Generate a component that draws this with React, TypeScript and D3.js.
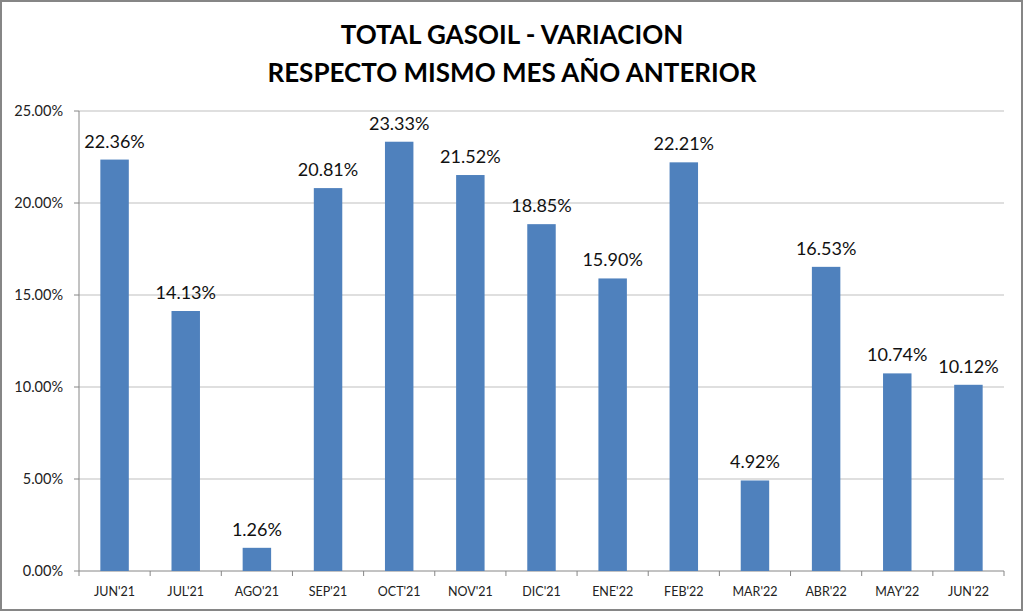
import * as d3 from "d3";
import * as React from "react";

const months = ["JUN'21", "JUL'21", "AGO'21", "SEP'21", "OCT'21", "NOV'21", "DIC'21", "ENE'22", "FEB'22", "MAR'22", "ABR'22", "MAY'22", "JUN'22"];
const variation = [22.36, 14.13, 1.26, 20.81, 23.33, 21.52, 18.85, 15.9, 22.21, 4.92, 16.53, 10.74, 10.12];
const yTicks = [0, 5, 10, 15, 20, 25];
const titleLines = ["TOTAL GASOIL - VARIACION", "RESPECTO MISMO MES AÑO ANTERIOR"];

const W = 1024;
const H = 612;
const margin = { top: 111, right: 20, bottom: 41, left: 79 };
const font = "Lato, 'Open Sans', sans-serif";

export default function App() {
    // inner 0.6 + outer 0.3 keeps step = width / 13, bars 40% of a category
    const x = d3.scaleBand<string>()
        .domain(months)
        .range([margin.left, W - margin.right])
        .paddingInner(0.6)
        .paddingOuter(0.3);

    const y = d3.scaleLinear()
        .domain([0, 25])
        .range([H - margin.bottom, margin.top]);

    const gap = (x.step() - x.bandwidth()) / 2;
    const boundaries = [...months.map(m => (x(m) ?? 0) - gap), W - margin.right];

    return (
        <svg width={W} height={H} style={{ position: "absolute", left: 0, top: 0, background: "white" }}>
            <rect x={1} y={1} width={W - 3} height={H - 3} fill="white" stroke="#868686" strokeWidth={2} />
            {titleLines.map((t, i) => (
                <text key={t} x={512} y={44 + i * 38} textAnchor="middle" fontFamily={font} fontWeight={700} fontSize={26} fill="#000">
                    {t}
                </text>
            ))}
            {yTicks.map(t => (
                <g key={t}>
                    {t > 0 && (
                        <line x1={margin.left} x2={W - margin.right} y1={y(t)} y2={y(t)} stroke="#BFBFBF" strokeWidth={1.2} />
                    )}
                    <line x1={margin.left - 5} x2={margin.left} y1={y(t)} y2={y(t)} stroke="#868686" />
                    <text x={63} y={y(t) + 5} textAnchor="end" fontFamily={font} fontSize={14.5} fill="#222">
                        {t.toFixed(2)}%
                    </text>
                </g>
            ))}
            <line x1={margin.left} x2={margin.left} y1={y(25)} y2={y(0)} stroke="#868686" />
            <line x1={margin.left} x2={W - margin.right} y1={y(0)} y2={y(0)} stroke="#868686" />
            {boundaries.map((b, i) => (
                <line key={i} x1={b} x2={b} y1={y(0)} y2={y(0) + 5} stroke="#868686" />
            ))}
            {variation.map((v, i) => {
                const bx = x(months[i]) ?? 0;
                const mid = bx + x.bandwidth() / 2;
                return (
                    <g key={months[i]}>
                        <rect x={bx} y={y(v)} width={x.bandwidth()} height={y(0) - y(v)} fill="#4F81BD" />
                        <text x={mid} y={y(v) - 12} textAnchor="middle" fontFamily={font} fontSize={18} fill="#111">
                            {v.toFixed(2)}%
                        </text>
                        <text x={mid} y={596} textAnchor="middle" fontFamily={font} fontSize={12.5} fill="#222">
                            {months[i]}
                        </text>
                    </g>
                );
            })}
        </svg>
    );
}
